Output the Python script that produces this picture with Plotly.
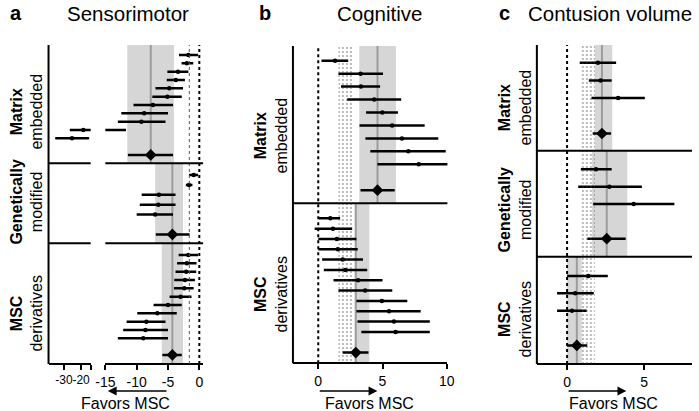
import plotly.graph_objects as go

W, H = 699, 411
FONT = "Liberation Sans, Arial, sans-serif"

# ------------------------------------------------------------------ data
# Panel a - Sensorimotor
SM_MATRIX_EST = [-1.75, -2.0, -3.4, -3.75, -4.8, -5.1, -7.4, -8.8, -9.25, -18.7, -25.3]
SM_MATRIX_LO = [-3.25, -2.83, -5.1, -5.2, -7.0, -7.5, -10.5, -12.45, -13.0, -26.6, -35.1]
SM_MATRIX_HI = [-0.2, -0.97, -1.75, -2.3, -2.6, -2.8, -4.2, -5.0, -5.4, -11.7, -15.3]
SM_MATRIX_SUM = [-7.75, -11.4, -4.2]          # estimate, lower, upper
SM_MATRIX_BAND = [-11.5, -4.05]

SM_GENMOD_EST = [-0.9, -1.65, -6.45, -6.55, -7.05]
SM_GENMOD_LO = [-1.65, -2.15, -9.2, -9.5, -10.0]
SM_GENMOD_HI = [-0.2, -1.1, -3.8, -3.8, -4.2]
SM_GENMOD_SUM = [-4.3, -6.95, -1.55]
SM_GENMOD_BAND = [-7.05, -2.6]

SM_DERIV_EST = [-1.75, -2.0, -2.1, -2.3, -2.4, -3.0, -5.0, -6.7, -8.45, -8.6, -8.95]
SM_DERIV_LO = [-3.3, -3.55, -3.8, -4.0, -4.05, -4.75, -7.3, -9.9, -11.6, -12.15, -13.0]
SM_DERIV_HI = [-0.2, -0.45, -0.5, -0.7, -0.9, -1.25, -2.8, -3.6, -5.4, -5.0, -5.0]
SM_DERIV_SUM = [-4.3, -5.9, -2.8]
SM_DERIV_BAND = [-6.0, -2.6]
SM_OVERALL = -1.6

# Panel b - Cognitive
COG_MATRIX_EST = [1.31, 3.29, 3.32, 4.35, 4.99, 5.75, 6.51, 7.01, 7.82]
COG_MATRIX_LO = [0.25, 1.57, 1.77, 2.25, 3.72, 3.21, 3.67, 4.05, 4.61]
COG_MATRIX_HI = [2.33, 5.04, 4.81, 6.45, 6.2, 8.28, 9.34, 9.92, 10.2]
COG_MATRIX_SUM = [4.61, 3.29, 5.95]
COG_MATRIX_BAND = [3.19, 6.05]

COG_DERIV_EST = [0.94, 1.14, 1.45, 1.52, 1.9, 2.11, 3.1, 3.65, 4.95, 5.51, 5.89, 6.02]
COG_DERIV_LO = [0.05, -0.28, 0.0, 0.0, 0.3, 0.43, 1.19, 1.57, 2.97, 2.97, 3.05, 3.35]
COG_DERIV_HI = [1.7, 2.64, 2.97, 3.07, 3.48, 3.81, 5.0, 5.76, 6.93, 7.97, 8.68, 8.68]
COG_DERIV_SUM = [2.92, 1.9, 3.91]
COG_DERIV_BAND = [2.84, 3.98]
COG_OVERALL_BAND = [1.57, 2.7]

# Panel c - Contusion volume
CV_MATRIX_EST = [2.0, 2.17, 3.31]
CV_MATRIX_LO = [0.82, 1.41, 1.58]
CV_MATRIX_HI = [3.18, 2.89, 5.04]
CV_MATRIX_SUM = [2.26, 1.66, 2.85]
CV_MATRIX_BAND = [1.79, 2.93]

CV_GENMOD_EST = [1.88, 2.74, 4.32]
CV_GENMOD_LO = [0.89, 0.72, 1.69]
CV_GENMOD_HI = [2.89, 4.85, 6.96]
CV_GENMOD_SUM = [2.57, 1.31, 3.8]
CV_GENMOD_BAND = [1.62, 3.9]

CV_DERIV_EST = [1.37, 0.53, 0.32]
CV_DERIV_LO = [0.0, -0.65, -0.65]
CV_DERIV_HI = [2.64, 1.73, 1.27]
CV_DERIV_SUM = [0.63, 0.0, 1.31]
CV_DERIV_BAND = [0.0, 0.95]
CV_OVERALL_BAND = [0.9, 1.8]

A_LEFT_TICKS = [-30, -20]
A_RIGHT_TICKS = [-15, -10, -5, 0]
B_TICKS = [0, 5, 10]
C_TICKS = [0, 5]

PANEL_LETTERS = ["a", "b", "c"]
PANEL_TITLES = ["Sensorimotor", "Cognitive", "Contusion volume"]
LBL_MATRIX = ("Matrix", "embedded")
LBL_GENMOD = ("Genetically", "modified")
LBL_DERIV = ("MSC", "derivatives")
FAVORS = "Favors MSC"


# ------------------------------------------------------------------ helpers
def px(p):
    return p / W


def py(p):
    return 1 - p / H


fig = go.Figure()
shapes = []
annotations = []
layout_axes = {}

BLACK = "black"
BAND = "#d6d6d6"
MIDLINE = "#9c9c9c"


def ax_key(name, letter):
    num = name[1:]
    return f"{letter}axis{num}"


def add_section(xaxes, yname, geom, est, lo, hi, summ, band):
    top, bottom, first, sp = geom
    n = len(est)
    layout_axes[ax_key(yname, "y")] = dict(
        domain=[py(bottom), py(top)],
        range=[(bottom - first) / sp, (top - first) / sp],
        visible=False, anchor="free", position=0, fixedrange=True,
    )
    xs, ys = [], []
    for i, (l, h) in enumerate(zip(lo, hi)):
        xs += [l, h, None]
        ys += [i, i, None]
    for xa in xaxes:
        shapes.append(dict(type="rect", xref=xa, yref=f"{yname} domain",
                           x0=band[0], x1=band[1], y0=0, y1=1,
                           fillcolor=BAND, line=dict(width=0), layer="below"))
        shapes.append(dict(type="line", xref=xa, yref=f"{yname} domain",
                           x0=summ[0], x1=summ[0], y0=0, y1=1,
                           line=dict(color=MIDLINE, width=2), layer="below"))
        fig.add_trace(go.Scatter(x=xs, y=ys, xaxis=xa, yaxis=yname, mode="lines",
                                 line=dict(color=BLACK, width=2.5), hoverinfo="skip"))
        fig.add_trace(go.Scatter(x=est, y=list(range(n)), xaxis=xa, yaxis=yname,
                                 mode="markers", marker=dict(size=4.5, color=BLACK),
                                 hoverinfo="skip"))
        fig.add_trace(go.Scatter(x=[summ[1], summ[2]], y=[n + 1, n + 1], xaxis=xa,
                                 yaxis=yname, mode="lines",
                                 line=dict(color=BLACK, width=2.5), hoverinfo="skip"))
        fig.add_trace(go.Scatter(x=[summ[0]], y=[n + 1], xaxis=xa, yaxis=yname,
                                 mode="markers",
                                 marker=dict(symbol="diamond", size=9, color=BLACK),
                                 hoverinfo="skip"))


def xaxis_style(domain, rng, bottom, tickvals, ticktext, size=14):
    return dict(domain=domain, range=rng, anchor="free", position=py(bottom),
                showline=True, linecolor=BLACK, linewidth=2, ticks="outside",
                ticklen=5, tickwidth=2, tickcolor=BLACK, showgrid=False,
                zeroline=False, tickvals=tickvals, ticktext=ticktext,
                tickangle=0, tickfont=dict(family=FONT, size=size, color=BLACK),
                fixedrange=True)


def fmt(v):
    return str(v)


# ------------------------------------------------------------------ panel a
A_TOP, A_BOT = 45, 364
layout_axes["xaxis"] = xaxis_style([px(39.5), px(82.7)], [-39, -14.4], A_BOT,
                                   A_LEFT_TICKS + [-14.4],
                                   [fmt(v) for v in A_LEFT_TICKS] + [""], size=12)
layout_axes["xaxis2"] = xaxis_style([px(97.7), px(197.9)], [-15, 0.6], A_BOT,
                                    A_RIGHT_TICKS, [fmt(v) for v in A_RIGHT_TICKS])
A_GEOM = [(45, 163.3, 55, 8.33), (163.3, 243.3, 175, 9.9), (243.3, 364, 255, 8.33)]
add_section(["x", "x2"], "y", A_GEOM[0], SM_MATRIX_EST, SM_MATRIX_LO, SM_MATRIX_HI,
            SM_MATRIX_SUM, SM_MATRIX_BAND)
add_section(["x", "x2"], "y2", A_GEOM[1], SM_GENMOD_EST, SM_GENMOD_LO, SM_GENMOD_HI,
            SM_GENMOD_SUM, SM_GENMOD_BAND)
add_section(["x", "x2"], "y3", A_GEOM[2], SM_DERIV_EST, SM_DERIV_LO, SM_DERIV_HI,
            SM_DERIV_SUM, SM_DERIV_BAND)

# ------------------------------------------------------------------ panel b
B_TOP, B_BOT = 46, 363.3
layout_axes["xaxis3"] = xaxis_style([px(290), px(448.3)], [-1.97, 10.05], B_BOT,
                                    B_TICKS, [fmt(v) for v in B_TICKS])
B_GEOM = [(46, 203.3, 60.7, 12.95), (203.3, 363.3, 218.3, 10.33)]
add_section(["x3"], "y4", B_GEOM[0], COG_MATRIX_EST, COG_MATRIX_LO, COG_MATRIX_HI,
            COG_MATRIX_SUM, COG_MATRIX_BAND)
add_section(["x3"], "y5", B_GEOM[1], COG_DERIV_EST, COG_DERIV_LO, COG_DERIV_HI,
            COG_DERIV_SUM, COG_DERIV_BAND)

# ------------------------------------------------------------------ panel c
C_TOP, C_BOT = 45, 364
layout_axes["xaxis4"] = xaxis_style([px(540), 1.0], [-1.96, 8.1], C_BOT,
                                    C_TICKS, [fmt(v) for v in C_TICKS])
C_GEOM = [(45, 150.7, 62.7, 17.7), (150.7, 256.7, 169.3, 17.35), (256.7, 364, 276, 17.35)]
add_section(["x4"], "y6", C_GEOM[0], CV_MATRIX_EST, CV_MATRIX_LO, CV_MATRIX_HI,
            CV_MATRIX_SUM, CV_MATRIX_BAND)
add_section(["x4"], "y7", C_GEOM[1], CV_GENMOD_EST, CV_GENMOD_LO, CV_GENMOD_HI,
            CV_GENMOD_SUM, CV_GENMOD_BAND)
add_section(["x4"], "y8", C_GEOM[2], CV_DERIV_EST, CV_DERIV_LO, CV_DERIV_HI,
            CV_DERIV_SUM, CV_DERIV_BAND)

# ------------------------------------------------------------------ stippled overall bands
for xa, yname, (top, bot), band in [("x3", "y9", (B_TOP, B_BOT), COG_OVERALL_BAND),
                                    ("x4", "y10", (C_TOP, C_BOT), CV_OVERALL_BAND)]:
    layout_axes[ax_key(yname, "y")] = dict(domain=[py(bot), py(top)], range=[0, 1],
                                           visible=False, anchor="free", position=0,
                                           fixedrange=True)
    fig.add_trace(go.Scatter(
        x=[band[0], band[1], band[1], band[0], band[0]], y=[0, 0, 1, 1, 0],
        xaxis=xa, yaxis=yname, mode="lines", line=dict(width=0),
        fill="toself", fillcolor="rgba(0,0,0,0)",
        fillpattern=dict(shape=".", fgcolor="#333333", bgcolor="rgba(0,0,0,0)",
                         size=4, solidity=0.16),
        hoverinfo="skip"))

# ------------------------------------------------------------------ reference lines
for xa, (top, bot) in [("x2", (A_TOP, A_BOT)), ("x3", (B_TOP, B_BOT)), ("x4", (C_TOP, C_BOT))]:
    shapes.append(dict(type="line", xref=xa, yref="paper", x0=0, x1=0,
                       y0=py(bot), y1=py(top),
                       line=dict(color=BLACK, width=2, dash="dot")))
shapes.append(dict(type="line", xref="x2", yref="paper", x0=SM_OVERALL, x1=SM_OVERALL,
                   y0=py(A_BOT), y1=py(A_TOP),
                   line=dict(color="#555555", width=1, dash="dot")))

# vertical axis lines
for xa, (top, bot) in [("x", (A_TOP, A_BOT)), ("x3", (B_TOP, B_BOT)), ("x4", (C_TOP, C_BOT))]:
    shapes.append(dict(type="line", xref=f"{xa} domain", yref="paper", x0=0, x1=0,
                       y0=py(bot), y1=py(top), line=dict(color=BLACK, width=2)))

# section separators
for xas, geoms in [(["x", "x2"], A_GEOM), (["x3"], B_GEOM), (["x4"], C_GEOM)]:
    for g in geoms[:-1]:
        for xa in xas:
            shapes.append(dict(type="line", xref=f"{xa} domain", yref="paper",
                               x0=0, x1=1, y0=py(g[1]), y1=py(g[1]),
                               line=dict(color=BLACK, width=2)))

# ------------------------------------------------------------------ text
for letter, x in zip(PANEL_LETTERS, [6, 261, 507]):
    annotations.append(dict(text=f"<b>{letter}</b>", x=px(x), y=1, xref="paper",
                            yref="paper", showarrow=False, xanchor="center",
                            yanchor="top", font=dict(family=FONT, size=20, color=BLACK)))
for title, x in zip(PANEL_TITLES, [120.7, 378.8, 615]):
    annotations.append(dict(text=title, x=px(x), y=1, xref="paper", yref="paper",
                            showarrow=False, xanchor="center", yanchor="top",
                            font=dict(family=FONT, size=20.5, color=BLACK)))

for lbl, x, y in [(LBL_MATRIX, 17, 112), (LBL_GENMOD, 17, 202), (LBL_DERIV, 17, 314),
                  (LBL_MATRIX, 268, 135), (LBL_DERIV, 268, 294),
                  (LBL_MATRIX, 518, 107), (LBL_GENMOD, 518, 210), (LBL_DERIV, 518, 319)]:
    annotations.append(dict(text=f"<b>{lbl[0]}</b><br>{lbl[1]}", x=px(x), y=py(y),
                            xref="paper", yref="paper", showarrow=False, textangle=-90,
                            xanchor="center", yanchor="middle",
                            font=dict(family=FONT, size=16, color=BLACK)))

for xa, tail, head, tx in [("x2", -5, -14.6, 118.5), ("x3", 0, 4.6, 368), ("x4", 0, 3.84, 619)]:
    annotations.append(dict(text="", x=head, y=py(391), xref=xa, yref="paper",
                            ax=tail, ay=0, axref=xa, ayref="pixel", showarrow=True,
                            arrowhead=2, arrowsize=1.1, arrowwidth=1.6,
                            arrowcolor=BLACK, standoff=0, startstandoff=0))
    annotations.append(dict(text=FAVORS, x=px(tx), y=py(403.5), xref="paper", yref="paper",
                            showarrow=False, xanchor="center", yanchor="middle",
                            font=dict(family=FONT, size=16, color=BLACK)))

fig.update_layout(
    width=W, height=H, margin=dict(l=0, r=0, t=0, b=0),
    paper_bgcolor="white", plot_bgcolor="rgba(0,0,0,0)",
    showlegend=False, hovermode=False,
    shapes=shapes, annotations=annotations,
    font=dict(family=FONT, color=BLACK),
    **layout_axes,
)

fig.write_html("out.html",
               config={"displayModeBar": False, "staticPlot": True},
               post_script="document.body.style.margin='0';"
                           "document.body.style.overflow='hidden';")
